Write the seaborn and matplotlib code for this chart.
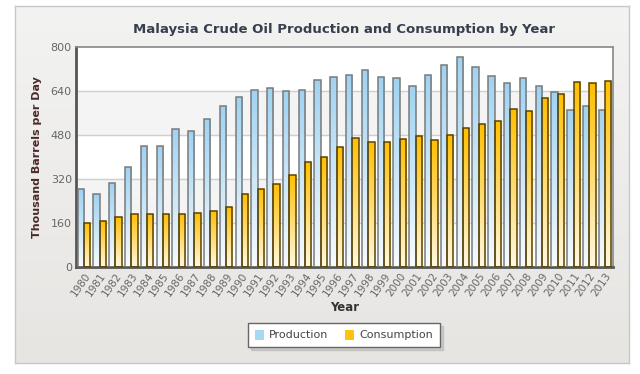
import numpy as np
import pandas as pd
import matplotlib.pyplot as plt
import seaborn as sns
from matplotlib.patches import Patch
from matplotlib.colors import LinearSegmentedColormap

# Dados (mil barris por dia)
anos = [str(a) for a in range(1980, 2014)]
producao = [283, 265, 305, 364, 440, 440, 502, 495, 538, 585,
            618, 644, 651, 640, 644, 680, 691, 698, 716, 691,
            687, 658, 698, 734, 763, 727, 694, 669, 687, 658,
            636, 571, 585, 571]
consumo = [160, 167, 182, 193, 193, 193, 193, 196, 204, 218,
           265, 284, 302, 335, 382, 400, 436, 469, 454, 455,
           465, 476, 462, 480, 505, 520, 531, 574, 567, 614,
           629, 673, 669, 676]
series = ['Production', 'Consumption']
y_ticks = [0, 160, 320, 480, 640, 800]

df = pd.DataFrame({
    'ano': anos * 2,
    'valor': producao + consumo,
    'serie': [series[0]] * len(anos) + [series[1]] * len(anos),
})

sns.set_theme(style="white")
plt.rcParams['font.family'] = ['DejaVu Sans']

fig = plt.figure(figsize=(6.4, 3.74), dpi=100)
fig.patch.set_facecolor('white')

# Painel de fundo com leve degradê
bg = fig.add_axes([15 / 640, 1 - 363 / 374, 614 / 640, 357 / 374], zorder=-5)
grad = np.linspace(0, 1, 256).reshape(-1, 1)
bg_cmap = LinearSegmentedColormap.from_list('bg', ['#f3f3f2', '#e7e5e2'])
bg.imshow(grad, aspect='auto', cmap=bg_cmap, extent=[0, 1, 0, 1], origin='upper')
bg.set_xticks([]); bg.set_yticks([])
for s in bg.spines.values():
    s.set_color('#c8c8c8'); s.set_linewidth(1)

ax = fig.add_axes([76 / 640, 1 - 267 / 374, 537 / 640, 220 / 374])
ax.set_facecolor('white')

cores = {'Production': '#a6d8f4', 'Consumption': '#ffc20e'}
sns.barplot(data=df, x='ano', y='valor', hue='serie', palette=cores,
            width=0.8, ax=ax, legend=False, saturation=1)

# Faixas alternadas e linhas de grade
for i in range(len(y_ticks) - 1):
    if i % 2 == 1:
        ax.axhspan(y_ticks[i], y_ticks[i + 1], color='#f4f4f4', zorder=0)
for t in y_ticks[1:-1]:
    ax.axhline(t, color='#cfcfcf', lw=1, zorder=0.5)

# Degradê dentro das barras (claro embaixo, saturado em cima)
cmaps = {
    'Production': LinearSegmentedColormap.from_list('p', ['#f7fbfe', '#9fd3f2']),
    'Consumption': LinearSegmentedColormap.from_list('c', ['#fff9e3', '#ffbf00']),
}
bordas = {'Production': '#7a7a7a', 'Consumption': '#5a4300'}
n = len(anos)
for i, bar in enumerate(list(ax.patches)[:2 * n]):
    s = series[0] if i < n else series[1]
    x, w, h = bar.get_x(), bar.get_width(), bar.get_height()
    im = ax.imshow(grad, aspect='auto', cmap=cmaps[s],
                   extent=[x, x + w, 0, h], origin='lower', zorder=2)
    im.set_clip_path(bar)
    bar.set_facecolor('none')
    bar.set_edgecolor(bordas[s])
    bar.set_linewidth(1.1)
    bar.set_zorder(3)

ax.set_ylim(0, 800)
ax.set_xlim(-0.5, len(anos) - 0.5)
ax.set_aspect('auto')

ax.set_yticks(y_ticks)
ax.set_yticklabels([str(t) for t in y_ticks], color='#666666', fontsize=8)
ax.set_xticks(range(n))
ax.set_xticklabels(anos, rotation=55, ha='right', rotation_mode='anchor',
                   color='#666666', fontsize=7.5)
ax.tick_params(axis='both', length=0, pad=3)

ax.set_xlabel('Year', fontsize=8.5, fontweight='bold', color='#333333', labelpad=2)
ax.set_ylabel('Thousand Barrels per Day', fontsize=8, fontweight='bold',
              color='#4a2a2a', labelpad=6)

for lado in ['left', 'bottom']:
    ax.spines[lado].set_color('#555555'); ax.spines[lado].set_linewidth(2)
for lado in ['top', 'right']:
    ax.spines[lado].set_color('#888888'); ax.spines[lado].set_linewidth(1.2)

fig.text(344 / 640, 1 - 30 / 374, 'Malaysia Crude Oil Production and Consumption by Year',
         ha='center', va='center', fontsize=9.5, fontweight='bold', color='#36404d')

handles = [Patch(facecolor='#a6d8f4', edgecolor='none', label='Production'),
           Patch(facecolor='#ffc20e', edgecolor='none', label='Consumption')]
leg = fig.legend(handles=handles, loc='center', bbox_to_anchor=(344 / 640, 1 - 335 / 374),
                 ncol=2, fontsize=8, frameon=True, fancybox=False,
                 shadow={'color': '#999999', 'alpha': 0.35},
                 handlelength=0.8, handleheight=1.0, columnspacing=1.5, handletextpad=0.5,
                 borderpad=0.6)
leg.get_frame().set_edgecolor('#666666')
leg.get_frame().set_linewidth(1)
for txt in leg.get_texts():
    txt.set_color('#444444')

plt.savefig('out.png', dpi=100)
plt.close('all')
